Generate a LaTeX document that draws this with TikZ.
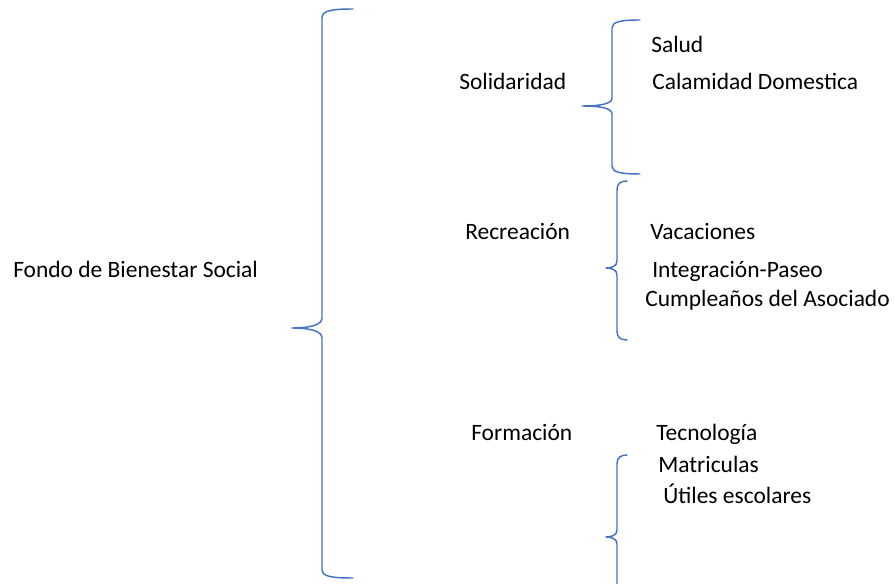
\documentclass[tikz,border=0pt]{standalone}
\usepackage{fontspec}
\setmainfont{Carlito}
\begin{document}
\begin{tikzpicture}[x=0.75pt,y=-0.75pt,
  lbl/.style={anchor=base west,inner sep=0pt,font=\fontsize{17.6}{21}\selectfont,text=black},
  curly/.style={draw=bracecol,line width=1.1pt,line cap=round,line join=round}]
\definecolor{bracecol}{HTML}{4472C4}
\useasboundingbox (0,0) rectangle (895,584);
\clip (0,0) rectangle (895,584);
% texts
\node[lbl] (fondo) at (13,278) {Fondo de Bienestar Social};
\node[lbl] (sol) at (459,90) {Solidaridad};
\node[lbl] (salud) at (651,53) {Salud};
\node[lbl] (calam) at (652,90) {Calamidad Domestica};
\node[lbl] (recr) at (465,240) {Recreación};
\node[lbl] (vac) at (650,240) {Vacaciones};
\node[lbl] (integ) at (652,278) {Integración-Paseo};
\node[lbl] (cumple) at (645,306) {Cumpleaños del Asociado};
\node[lbl] (form) at (471,440) {Formación};
\node[lbl] (tecno) at (656,440) {Tecnología};
\node[lbl] (matri) at (658,472) {Matriculas};
\node[lbl] (utiles) at (663,503) {Útiles escolares};
% main brace
\draw[curly] (353,9) .. controls (330,9) and (322,11) .. (322,18) -- (322,318)
  .. controls (322,325) and (310,328) .. (292,328)
  .. controls (310,328) and (322,331) .. (322,338) -- (322,570)
  .. controls (322,576) and (330,578) .. (353,578);
% Solidaridad brace
\draw[curly] (640,20) .. controls (620,20) and (612,22) .. (612,28) -- (612,98)
  .. controls (612,104) and (600,106) .. (582,106)
  .. controls (600,106) and (612,108) .. (612,114) -- (612,166)
  .. controls (612,172) and (620,174) .. (640,174);
% Recreacion brace
\draw[curly] (627,181) .. controls (620,181) and (617,184) .. (617,190) -- (617,261)
  .. controls (617,266) and (612,268) .. (606,268)
  .. controls (612,268) and (617,270) .. (617,275) -- (617,331)
  .. controls (617,337) and (620,340) .. (627,340);
% Formacion brace
\draw[curly] (627,455) .. controls (620,455) and (617,458) .. (617,464) -- (617,530)
  .. controls (617,535) and (612,537) .. (606,537)
  .. controls (612,537) and (617,539) .. (617,544) -- (617,600);
\end{tikzpicture}
\end{document}
